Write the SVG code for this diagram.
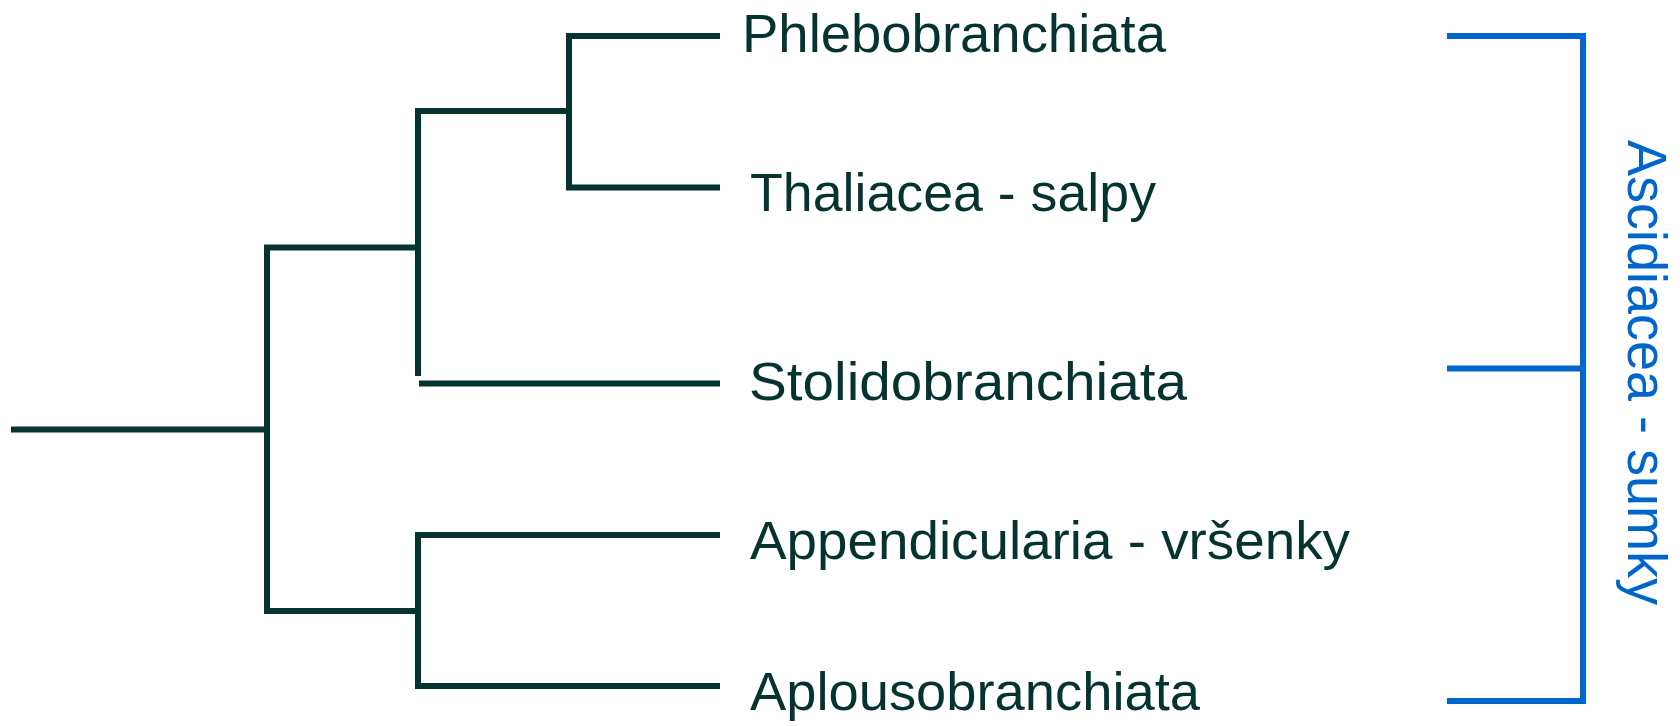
<svg xmlns="http://www.w3.org/2000/svg" width="1680" height="726" viewBox="0 0 1680 726">
<style>
.br{fill:none;stroke:#043330;stroke-width:6;stroke-linecap:butt;stroke-linejoin:miter}
.bl{fill:none;stroke:#0066CC;stroke-width:6;stroke-linecap:butt;stroke-linejoin:miter}
.lb{font-family:"Liberation Sans",Arial,sans-serif;font-size:54px;fill:#043330}
.gl{font-family:"Liberation Sans",Arial,sans-serif;font-size:56px;fill:#0066CC}
</style>
<rect width="1680" height="726" fill="#ffffff"/>
<g id="connectors">
<path class="br" d="M11,429.5 H267"/>
<path class="br" d="M418,247.5 H267 V611 H418"/>
<path class="br" d="M569,111 H418 V376"/>
<path class="br" d="M419,383.5 H720"/>
<path class="br" d="M720,36 H569 V187.5 H720"/>
<path class="br" d="M720,535 H418 V686 H720"/>
<path class="bl" d="M1447,36 H1583 V701 H1447"/>
<path class="bl" d="M1447,368.5 H1583"/>
</g>
<g id="node-phlebobranchiata"><text class="lb" x="742" y="52" textLength="424" lengthAdjust="spacingAndGlyphs">Phlebobranchiata</text></g>
<g id="node-thaliacea"><text class="lb" x="750" y="211" textLength="406" lengthAdjust="spacingAndGlyphs">Thaliacea - salpy</text></g>
<g id="node-stolidobranchiata"><text class="lb" x="749" y="400" textLength="438" lengthAdjust="spacingAndGlyphs">Stolidobranchiata</text></g>
<g id="node-appendicularia"><text class="lb" x="750" y="559" textLength="600" lengthAdjust="spacingAndGlyphs">Appendicularia - vršenky</text></g>
<g id="node-aplousobranchiata"><text class="lb" x="750" y="710" textLength="450" lengthAdjust="spacingAndGlyphs">Aplousobranchiata</text></g>
<g id="node-ascidiacea"><text class="gl" transform="translate(1628,140) rotate(90)" textLength="465" lengthAdjust="spacingAndGlyphs">Ascidiacea - sumky</text></g>
</svg>
